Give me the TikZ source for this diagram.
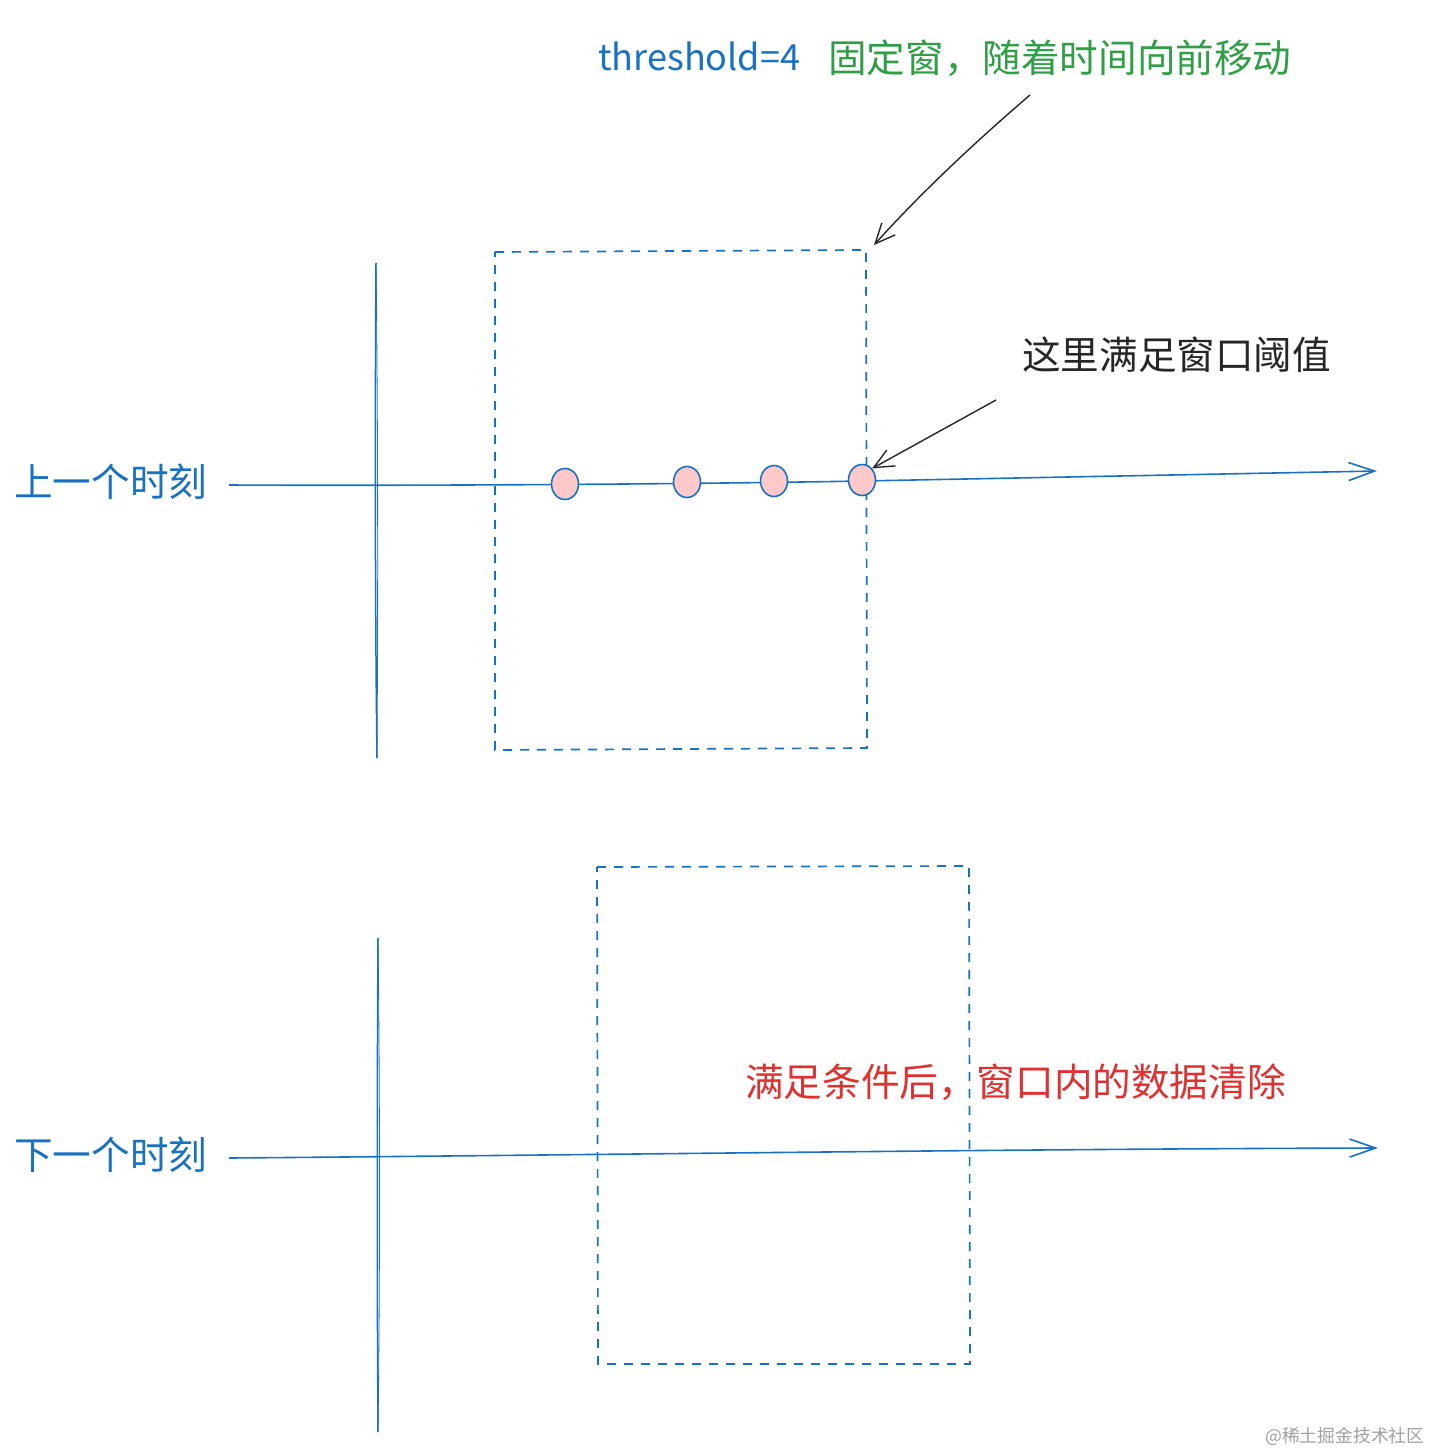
\documentclass[tikz,border=0pt]{standalone}
\usepackage{fontspec}
\setmainfont{Noto Sans CJK SC}
\usetikzlibrary{arrows.meta,shapes.geometric}
\definecolor{xblue}{HTML}{1971C2}
\definecolor{xgreen}{HTML}{2F9E44}
\definecolor{xred}{HTML}{E03131}
\definecolor{xpink}{HTML}{FFC9C9}
\definecolor{xgray}{HTML}{A0A0A0}
\tikzset{
  bigtext/.style={font=\fontsize{38.6}{40}\selectfont, inner sep=0pt, anchor=west},
  axisline/.style={draw=xblue, line width=1.5pt},
  axisarrow/.style={draw=xblue, line width=1.6pt, -{Straight Barb[length=26pt,width=18pt,line width=1.6pt]}},
  winbox/.style={draw=xblue, line width=1.7pt, dash pattern=on 9pt off 8pt},
  dot/.style={draw=xblue, fill=xpink, line width=1.6pt, ellipse, minimum width=27pt, minimum height=31pt, inner sep=0pt},
  callout/.style={draw=black!85, line width=1.4pt, -{Straight Barb[length=20pt,width=18pt,line width=1.4pt]}},
}
\begin{document}
\begin{tikzpicture}[x=1pt,y=-1pt]
\useasboundingbox[fill=white] (0,0) rectangle (1432,1453);

% texts
\node[bigtext, text=xblue, font=\fontsize{36}{40}\selectfont] (thr) at (598,56) {threshold=4};
\node[bigtext, text=xgreen] (fix) at (828,58) {固定窗，随着时间向前移动};
\node[bigtext, text=black!85] (here) at (1022,355) {这里满足窗口阈值};
\node[bigtext, text=xblue] (prev) at (14,482) {上一个时刻};
\node[bigtext, text=xblue] (next) at (14,1155) {下一个时刻};
\node[bigtext, text=xred] (clr) at (745,1082) {满足条件后，窗口内的数据清除};
\node[font=\fontsize{17.8}{18}\selectfont, text=xgray, inner sep=0pt, anchor=west] (wm) at (1265,1436) {@稀土掘金技术社区};

% upper time axis
\coordinate (v1a) at (376,263);
\coordinate (v1b) at (377,758);
\draw[axisline] (v1a) .. controls (375,420) and (375,600) .. (v1b);
\draw[axisline, line width=0.8pt] (v1a) .. controls (378,420) and (378,600) .. (v1b);
\coordinate (h1a) at (229,485);
\coordinate (h1b) at (1377,471);
\draw[axisarrow] (h1a) .. controls (420,486) and (700,484) .. (862,481) -- (h1b);

% upper window
\coordinate (w1a) at (495,252);
\coordinate (w1b) at (866,250);
\coordinate (w1c) at (867,748);
\coordinate (w1d) at (495,750);
\draw[winbox] (w1a) -- (w1b) -- (w1c) -- (w1d) -- cycle;

% dots
\node[dot] (d1) at (565,484) {};
\node[dot] (d2) at (687,482) {};
\node[dot] (d3) at (774,481) {};
\node[dot] (d4) at (862,480) {};

% callouts
\coordinate (c1s) at (1030,95);
\coordinate (c1e) at (874,245);
\draw[callout] (c1s) .. controls (960,155) and (910,205) .. (c1e);
\coordinate (c2s) at (996,400);
\draw[callout] (c2s) -- (d4.north east);

% lower time axis
\coordinate (v2a) at (378,938);
\coordinate (v2b) at (378,1432);
\draw[axisline] (v2a) .. controls (377,1100) and (377,1280) .. (v2b);
\draw[axisline, line width=0.8pt] (v2a) .. controls (380,1100) and (380,1280) .. (v2b);
\coordinate (h2a) at (229,1158);
\coordinate (h2b) at (1378,1148);
\draw[axisarrow] (h2a) .. controls (600,1155) and (1000,1149) .. (h2b);

% lower window
\coordinate (w2a) at (597,867);
\coordinate (w2b) at (969,866);
\coordinate (w2c) at (970,1364);
\coordinate (w2d) at (598,1364);
\draw[winbox] (w2a) -- (w2b) -- (w2c) -- (w2d) -- cycle;
\end{tikzpicture}
\end{document}
